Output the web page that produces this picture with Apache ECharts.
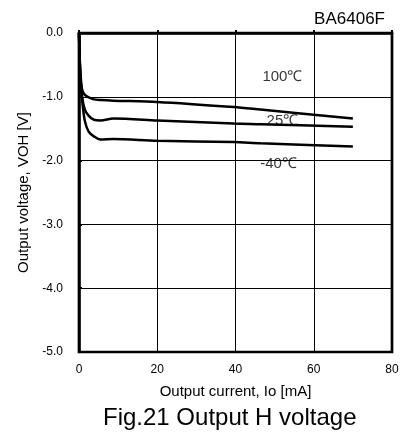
<!DOCTYPE html>
<html><head><meta charset="utf-8">
<script src="https://cdn.jsdelivr.net/npm/echarts@6/dist/echarts.min.js"></script>
<style>html,body{margin:0;padding:0;background:#fff}#c{width:412px;height:437px}</style>
</head><body><div id="c"></div>
<script>
const xTicks = [0, 20, 40, 60, 80];
const yTicks = [0, -1, -2, -3, -4, -5];
const seriesNames = ['100℃', '25℃', '-40℃'];
const current = [0, 0.3, 0.8, 1.5, 2.5, 3.8, 5.5, 8.8, 20, 39.5, 46.4, 70];
const v100 = [0, -0.55, -0.89, -0.97, -1.01, -1.04, -1.05, -1.06, -1.08, -1.16, -1.2, -1.34];
const v25 = [0, -0.6, -1.0, -1.2, -1.3, -1.36, -1.37, -1.34, -1.37, -1.42, -1.43, -1.47];
const vm40 = [0, -0.65, -1.05, -1.38, -1.55, -1.62, -1.67, -1.66, -1.69, -1.71, -1.73, -1.78];
const labelPos = [[52, -0.69], [52, -1.38], [51, -2.05]];
const font = 'Liberation Sans, Arial, sans-serif';
const chart = echarts.init(document.getElementById('c'), null, {renderer: 'canvas'});
const vals = [v100, v25, vm40];
const series = vals.map((v, i) => ({
  name: seriesNames[i], type: 'line', smooth: 0.3, symbol: 'none',
  lineStyle: {color: '#000', width: 2.5},
  data: current.map((x, j) => [x, v[j]])
}));
series.push({
  type: 'scatter', symbolSize: 0,
  data: labelPos.map((p, i) => ({value: p, label: {show: true, formatter: seriesNames[i], position: 'inside', color: '#000', fontSize: 15, fontFamily: font}})),
  silent: true
});
chart.setOption({
  animation: false,
  title: [
    {text: 'BA6406F', right: 22, top: 6, textStyle: {fontSize: 17, fontWeight: 'normal', color: '#000', fontFamily: font}},
    {text: 'Fig.21 Output H voltage', left: 98, top: 401, textStyle: {fontSize: 24, fontWeight: 'normal', color: '#000', fontFamily: font}}
  ],
  grid: {left: 79, right: 20, top: 33, bottom: 85},
  xAxis: {
    type: 'value', min: 0, max: 80, interval: 20,
    name: 'Output current, Io [mA]', nameLocation: 'middle', nameGap: 32,
    nameTextStyle: {fontSize: 15, color: '#000', fontFamily: font},
    axisLine: {show: true, lineStyle: {color: '#000', width: 2.5}},
    axisTick: {show: true, inside: true, length: 3, lineStyle: {color: '#000', width: 2}},
    axisLabel: {fontSize: 12, color: '#000', fontFamily: font, margin: 12},
    splitLine: {show: true, lineStyle: {color: '#000', width: 1}}
  },
  yAxis: {
    type: 'value', min: -5, max: 0, interval: 1,
    name: 'Output voltage, VOH [V]', nameLocation: 'middle', nameGap: 48,
    nameTextStyle: {fontSize: 15, color: '#000', fontFamily: font},
    axisLine: {show: true, lineStyle: {color: '#000', width: 2.5}},
    axisTick: {show: true, inside: true, length: 3, lineStyle: {color: '#000', width: 2}},
    axisLabel: {fontSize: 12, color: '#000', fontFamily: font, margin: 16, formatter: v => v.toFixed(1)},
    splitLine: {show: true, lineStyle: {color: '#000', width: 1}}
  },
  series: series
});
const tl = chart.convertToPixel('grid', [0, 0]);
const br = chart.convertToPixel('grid', [80, -5]);
chart.setOption({graphic: [{type: 'rect', shape: {x: tl[0], y: tl[1], width: br[0] - tl[0], height: br[1] - tl[1]}, style: {fill: 'none', stroke: '#000', lineWidth: 2.7}, z: 10, silent: true}]});
</script></body></html>
